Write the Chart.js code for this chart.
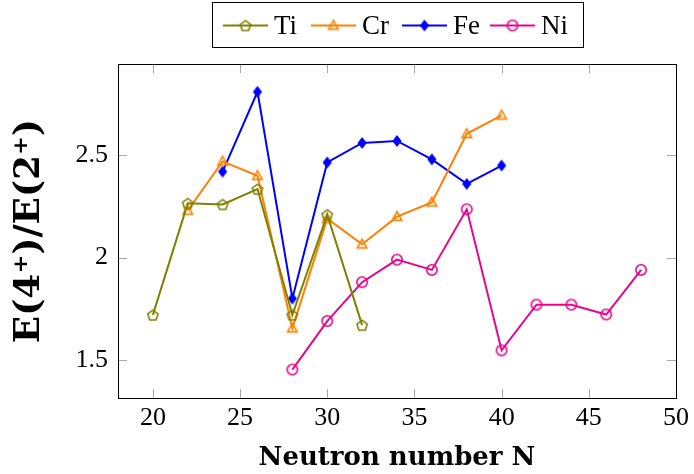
<!DOCTYPE html>
<html>
<head>
<meta charset="utf-8">
<script src="https://cdn.jsdelivr.net/npm/chart.js@4/dist/chart.umd.min.js"></script>
<style>
  html, body { margin: 0; padding: 0; background: #fff; }
  #wrap { width: 694px; height: 474px; }
</style>
</head>
<body>
<div id="wrap"><canvas id="chart-js" width="694" height="474"></canvas></div>
<script>
// neutron numbers and E(4+)/E(2+) ratios
const tiN = [20, 22, 24, 26, 28, 30, 32];
const tiR = [1.72, 2.265, 2.26, 2.335, 1.72, 2.21, 1.67];

const crN = [22, 24, 26, 28, 30, 32, 34, 36, 38, 40];
const crR = [2.23, 2.47, 2.40, 1.655, 2.19, 2.065, 2.20, 2.27, 2.605, 2.695];

const feN = [24, 26, 28, 30, 32, 34, 36, 38, 40];
const feR = [2.42, 2.81, 1.80, 2.465, 2.56, 2.57, 2.48, 2.36, 2.45];

const niN = [28, 30, 32, 34, 36, 38, 40, 42, 44, 46, 48];
const niR = [1.453, 1.69, 1.88, 1.99, 1.94, 2.236, 1.547, 1.77, 1.77, 1.722, 1.94];

const xTicks = [20, 25, 30, 35, 40, 45, 50];
const yTicks = [1.5, 2, 2.5];

const serif = "'Liberation Serif', 'Times New Roman', serif";
const boldSerif = "'DejaVu Serif', serif";

// marker images (pgfplots style marks)
function makeMarker(kind, color) {
    const c = document.createElement('canvas');
    c.width = 16; c.height = 16;
    const g = c.getContext('2d');
    g.strokeStyle = color;
    g.fillStyle = color;
    g.lineWidth = 1.6;
    g.beginPath();
    if (kind === 'pentagon') {
        for (let i = 0; i < 5; i++) {
            const a = -Math.PI / 2 + i * 2 * Math.PI / 5;
            const px = 8 + 5.4 * Math.cos(a), py = 8.6 + 5.4 * Math.sin(a);
            i ? g.lineTo(px, py) : g.moveTo(px, py);
        }
        g.closePath();
        g.stroke();
    } else if (kind === 'triangle') {
        g.moveTo(8, 2.8);
        g.lineTo(12.8, 11.6);
        g.lineTo(3.2, 11.6);
        g.closePath();
        g.stroke();
    } else if (kind === 'diamond') {
        g.moveTo(8, 2);
        g.lineTo(12.6, 8);
        g.lineTo(8, 14);
        g.lineTo(3.4, 8);
        g.closePath();
        g.fill();
    } else {
        g.arc(8, 8, 5.2, 0, Math.PI * 2);
        g.stroke();
    }
    return c;
}

const series = [
    { label: 'Ti', n: tiN, r: tiR, color: '#808000', mark: 'pentagon' },
    { label: 'Cr', n: crN, r: crR, color: '#ff8000', mark: 'triangle' },
    { label: 'Fe', n: feN, r: feR, color: '#0000ff', mark: 'diamond' },
    { label: 'Ni', n: niN, r: niR, color: '#e6068c', mark: 'circle' }
];
series.forEach(s => s.img = makeMarker(s.mark, s.color));

// frame, inward ticks and the boxed legend
const framePlugin = {
    id: 'frame',
    afterDraw(chart) {
        const { ctx, chartArea: a, scales } = chart;
        ctx.save();
        ctx.strokeStyle = '#a8a8a8';
        ctx.lineWidth = 1;
        const tl = 9;
        ctx.beginPath();
        xTicks.forEach(v => {
            const x = Math.round(scales.x.getPixelForValue(v)) + 0.5;
            ctx.moveTo(x, a.bottom); ctx.lineTo(x, a.bottom - tl);
            ctx.moveTo(x, a.top); ctx.lineTo(x, a.top + tl);
        });
        yTicks.forEach(v => {
            const y = Math.round(scales.y.getPixelForValue(v)) + 0.5;
            ctx.moveTo(a.left, y); ctx.lineTo(a.left + tl, y);
            ctx.moveTo(a.right, y); ctx.lineTo(a.right - tl, y);
        });
        ctx.stroke();
        ctx.strokeStyle = '#000';
        ctx.strokeRect(Math.round(a.left) + 0.5, Math.round(a.top) + 0.5,
            Math.round(a.right - a.left), Math.round(a.bottom - a.top));

        // legend
        const lx = 212, ly = 2, lw = 371, lh = 45;
        ctx.fillStyle = '#fff';
        ctx.fillRect(lx, ly, lw, lh);
        ctx.strokeRect(lx + 0.5, ly + 0.5, lw, lh);
        const cy = ly + lh / 2 + 1;
        const starts = [223, 311, 402, 490];
        ctx.font = '27px ' + serif;
        ctx.textBaseline = 'middle';
        series.forEach((s, i) => {
            const x0 = starts[i];
            ctx.strokeStyle = s.color;
            ctx.lineWidth = 2;
            ctx.beginPath();
            ctx.moveTo(x0, cy); ctx.lineTo(x0 + 45, cy);
            ctx.stroke();
            ctx.drawImage(s.img, x0 + 22.5 - 8, cy - 8);
            ctx.fillStyle = '#000';
            ctx.fillText(s.label, x0 + 51, cy + 1);
        });
        ctx.restore();
    }
};

const ctx = document.getElementById('chart-js').getContext('2d');

const myChart = new Chart(ctx, {
    type: 'line',
    data: {
        datasets: series.map(s => ({
            label: s.label,
            data: s.n.map((n, i) => ({ x: n, y: s.r[i] })),
            borderColor: s.color,
            backgroundColor: 'transparent',
            borderWidth: 2,
            pointStyle: s.img,
            pointRadius: 6,
            pointHoverRadius: 6,
            tension: 0,
            fill: false
        }))
    },
    options: {
        responsive: false,
        animation: false,
        layout: { padding: { top: 64, right: 13, left: 0, bottom: 0 } },
        plugins: {
            legend: { display: false },
            tooltip: { enabled: false }
        },
        scales: {
            x: {
                type: 'linear',
                min: 18,
                max: 50,
                afterBuildTicks: scale => { scale.ticks = xTicks.map(v => ({ value: v })); },
                afterFit: scale => { scale.height = 76; },
                grid: { display: false, drawTicks: false },
                border: { display: false },
                ticks: {
                    padding: 5,
                    color: '#000',
                    callback: v => String(v),
                    font: { family: serif, size: 26 }
                },
                title: {
                    display: true,
                    text: 'Neutron number N',
                    color: '#000',
                    font: { family: boldSerif, size: 26, weight: 'bold', lineHeight: 1 },
                    padding: { top: 0, bottom: 3 }
                }
            },
            y: {
                min: 1.314,
                max: 2.946,
                afterBuildTicks: scale => { scale.ticks = yTicks.map(v => ({ value: v })); },
                afterFit: scale => { scale.width = 118; },
                grid: { display: false, drawTicks: false },
                border: { display: false },
                ticks: {
                    padding: 10,
                    color: '#000',
                    callback: v => String(v),
                    font: { family: serif, size: 26 }
                },
                title: {
                    display: true,
                    text: 'E(4\u207A)/E(2\u207A)',
                    color: '#000',
                    font: { family: boldSerif, size: 36, weight: 'bold', lineHeight: 1 },
                    padding: { top: 12, bottom: 0 }
                }
            }
        }
    },
    plugins: [framePlugin]
});
</script>
</body>
</html>
